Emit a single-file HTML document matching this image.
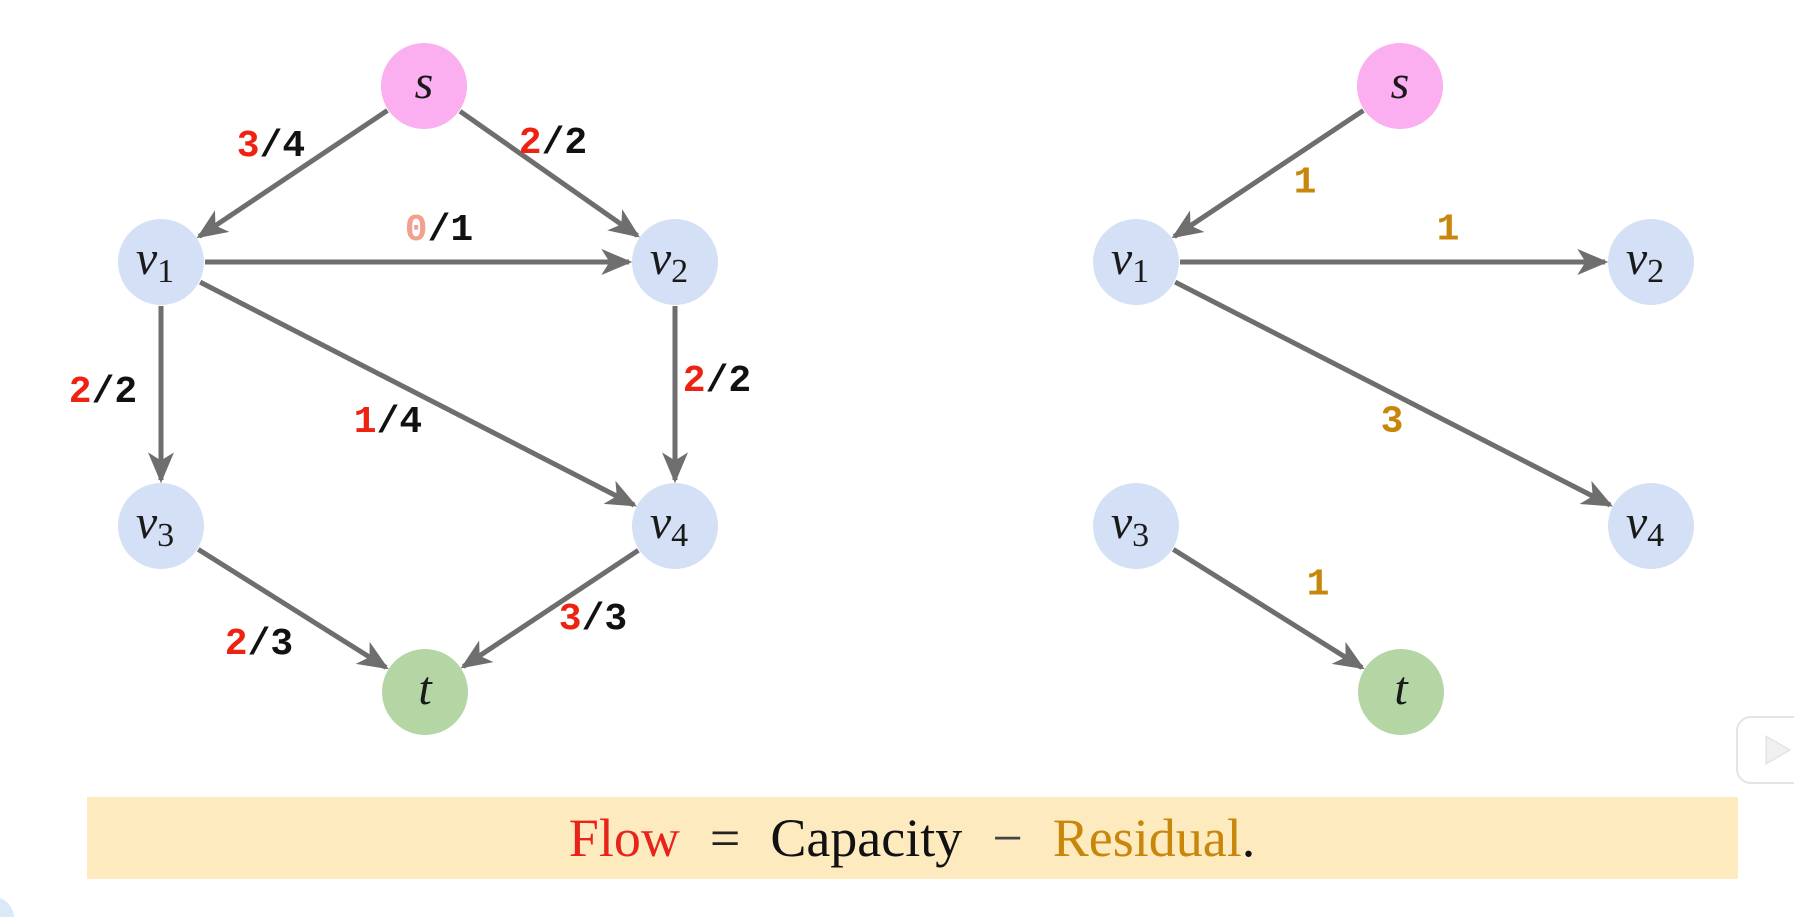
<!DOCTYPE html>
<html><head><meta charset="utf-8">
<style>
html,body{margin:0;padding:0;background:#fff;width:1794px;height:917px;overflow:hidden;}
svg{position:absolute;left:0;top:0;}
</style></head>
<body>
<svg id="g" width="1794" height="917" viewBox="0 0 1794 917" xmlns="http://www.w3.org/2000/svg">
<defs>
<marker id="ar" viewBox="0 0 20 20" refX="17" refY="10" markerWidth="6.5" markerHeight="6.5" markerUnits="strokeWidth" orient="auto">
<path d="M0,2 L19,10 L0,18 L5,10 Z" fill="#6e6e6e"/>
</marker>
</defs>
<path d="M0,898 A22,22 0 0 1 14,917 L0,917 Z" fill="#dbe8f7"/>
<rect x="87" y="797" width="1651" height="82" fill="#fdebbf"/>
<text x="912" y="856" text-anchor="middle" font-family="Liberation Serif, serif" font-size="54"><tspan fill="#e8231a">Flow</tspan><tspan fill="#222" dx="30">=</tspan><tspan fill="#111" dx="30">Capacity</tspan><tspan fill="#444" dx="30">−</tspan><tspan fill="#c8860a" dx="30">Residual</tspan><tspan fill="#111">.</tspan></text>
<rect x="1737" y="717" width="70" height="66" rx="14" fill="#fff" stroke="#e4e4e4" stroke-width="2"/>
<path d="M1766,736 L1790,750 L1766,764 Z" fill="#f0f0f0" stroke="#ddd"/>
<g id="edges"></g>
<g id="nodes"></g>
<g font-family="Liberation Mono, monospace" font-weight="bold" font-size="38" text-anchor="middle" dominant-baseline="central">
<text x="271" y="146"><tspan fill="#ee2211">3</tspan><tspan fill="#111">/4</tspan></text>
<text x="553" y="143"><tspan fill="#ee2211">2</tspan><tspan fill="#111">/2</tspan></text>
<text x="439" y="230"><tspan fill="#f2a090">0</tspan><tspan fill="#111">/1</tspan></text>
<text x="103" y="392"><tspan fill="#ee2211">2</tspan><tspan fill="#111">/2</tspan></text>
<text x="388" y="422"><tspan fill="#ee2211">1</tspan><tspan fill="#111">/4</tspan></text>
<text x="717" y="381"><tspan fill="#ee2211">2</tspan><tspan fill="#111">/2</tspan></text>
<text x="259" y="644"><tspan fill="#ee2211">2</tspan><tspan fill="#111">/3</tspan></text>
<text x="593" y="619"><tspan fill="#ee2211">3</tspan><tspan fill="#111">/3</tspan></text>
<g fill="#c8860a">
<text x="1305" y="183">1</text>
<text x="1448" y="230">1</text>
<text x="1392" y="422">3</text>
<text x="1318" y="585">1</text>
</g>
</g>
</svg>
<script>
var NS="http://www.w3.org/2000/svg";
var N={s:[424,86,"#fbaef0","s",""],v1:[161,262,"#d4e0f5","v","1"],v2:[675,262,"#d4e0f5","v","2"],v3:[161,526,"#d4e0f5","v","3"],v4:[675,526,"#d4e0f5","v","4"],t:[425,692,"#b3d6a4","t",""]};
var R={s:[1400,86,"#fbaef0","s",""],v1:[1136,262,"#d4e0f5","v","1"],v2:[1651,262,"#d4e0f5","v","2"],v3:[1136,526,"#d4e0f5","v","3"],v4:[1651,526,"#d4e0f5","v","4"],t:[1401,692,"#b3d6a4","t",""]};
var r=43;
var E=document.getElementById("edges"),ND=document.getElementById("nodes");
function edge(a,b){var dx=b[0]-a[0],dy=b[1]-a[1],L=Math.hypot(dx,dy),ux=dx/L,uy=dy/L;
var l=document.createElementNS(NS,"line");
l.setAttribute("x1",a[0]+ux*(r+1));l.setAttribute("y1",a[1]+uy*(r+1));
l.setAttribute("x2",b[0]-ux*(r+3));l.setAttribute("y2",b[1]-uy*(r+3));
l.setAttribute("stroke","#6e6e6e");l.setAttribute("stroke-width","5");l.setAttribute("marker-end","url(#ar)");E.appendChild(l);}
function node(n){var c=document.createElementNS(NS,"circle");c.setAttribute("cx",n[0]);c.setAttribute("cy",n[1]);c.setAttribute("r",r);c.setAttribute("fill",n[2]);ND.appendChild(c);
var t=document.createElementNS(NS,"text");t.setAttribute("x",n[0]-(n[4]?6:0));t.setAttribute("y",n[1]+12);t.setAttribute("text-anchor","middle");
t.setAttribute("font-family","Liberation Serif, serif");t.setAttribute("font-style","italic");t.setAttribute("font-size","48");t.setAttribute("fill","#1a1a1a");
t.textContent=n[3];if(n[4]){var s=document.createElementNS(NS,"tspan");s.setAttribute("font-style","normal");s.setAttribute("font-size","34");s.setAttribute("dy","8");s.textContent=n[4];t.appendChild(s);}ND.appendChild(t);}
[["s","v1"],["s","v2"],["v1","v2"],["v1","v3"],["v1","v4"],["v2","v4"],["v3","t"],["v4","t"]].forEach(function(e){edge(N[e[0]],N[e[1]]);});
[["s","v1"],["v1","v2"],["v1","v4"],["v3","t"]].forEach(function(e){edge(R[e[0]],R[e[1]]);});
for(var k in N)node(N[k]);for(var k in R)node(R[k]);
</script>
</body></html>
